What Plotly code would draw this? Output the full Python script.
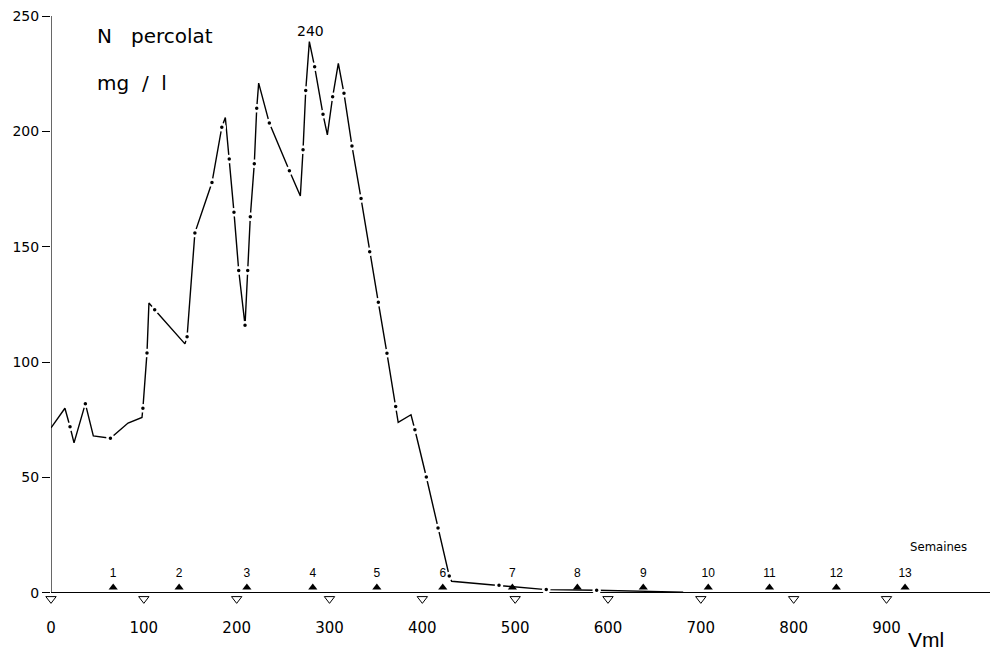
import plotly.graph_objects as go

# ---- data ----
curve_x = [0, 15, 20.5, 24.8, 37, 45.6, 64, 83, 98, 99, 103.4, 105.5, 111.7, 144.3, 146.6,
           155, 173.4, 184, 187.8, 192, 197.1, 202.2, 209, 211.9, 214.7, 219, 221.6, 223.7,
           235.2, 256.8, 268.6, 271.5, 274.4, 278.3, 284, 293, 297.7, 303.4, 309.5, 315.6,
           324.2, 334, 343.3, 352.6, 361.9, 371.3, 374, 387.8, 392, 404.3, 416.9, 429,
           431.6, 482.6, 533.5, 587.8, 681]
curve_y = [71.5, 80, 72, 65, 82, 68, 67, 73.6, 76, 80, 104, 125.6, 122.7, 107.9, 111,
           156, 177.8, 201.8, 206, 188, 165, 139.7, 116, 139.7, 163, 186, 210, 220.9,
           203.6, 182.9, 172, 192, 217.7, 238.9, 228, 207.4, 198.5, 215, 229.5, 216.5,
           193.7, 170.9, 147.8, 125.9, 103.8, 80.8, 73.9, 77.2, 70.7, 50.2, 28.1, 7.3,
           5, 3.3, 1.4, 1.1, 0.3]
curve_dot = [0, 0, 1, 0, 1, 0, 1, 0, 0, 1, 1, 0, 1, 0, 1,
             1, 1, 1, 0, 1, 1, 1, 1, 1, 1, 1, 1, 0,
             1, 1, 0, 1, 1, 0, 1, 1, 0, 1, 0, 1,
             1, 1, 1, 1, 1, 1, 0, 0, 1, 1, 1, 1,
             0, 1, 1, 1, 0]

week_labels = ["1", "2", "3", "4", "5", "6", "7", "8", "9", "10", "11", "12", "13"]
week_x = [67, 138, 211, 282, 351, 422, 497, 567, 638, 708, 774, 846, 920]

volume_marks = [0, 100, 200, 300, 400, 500, 600, 700, 800, 900]
x_ticks = [0, 100, 200, 300, 400, 500, 600, 700, 800, 900]
y_ticks = [0, 50, 100, 150, 200, 250]

peak_label = "240"
peak_x = 280

FONT = "DejaVu Sans"

dot_x = [x for x, d in zip(curve_x, curve_dot) if d]
dot_y = [y for y, d in zip(curve_y, curve_dot) if d]

fig = go.Figure()

# curve
fig.add_trace(go.Scatter(x=curve_x, y=curve_y, mode="lines",
                         line=dict(color="black", width=1.4),
                         hoverinfo="skip", showlegend=False))
# dots (white halo mimics the gaps of the original drawing)
fig.add_trace(go.Scatter(x=dot_x, y=dot_y, mode="markers",
                         marker=dict(color="black", size=6,
                                     line=dict(color="white", width=2.5)),
                         showlegend=False, cliponaxis=False))

# week markers
fig.add_trace(go.Scatter(x=week_x, y=[2.3] * len(week_x), mode="markers",
                         marker=dict(symbol="triangle-up", color="black", size=8),
                         showlegend=False, cliponaxis=False))
fig.add_trace(go.Scatter(x=week_x, y=[8.3] * len(week_x), mode="text",
                         text=week_labels,
                         textfont=dict(family="Liberation Sans", size=12, color="black"),
                         showlegend=False, cliponaxis=False))

# volume marks (open down triangles under the axis)
fig.add_trace(go.Scatter(x=volume_marks, y=[-2.6] * len(volume_marks), mode="markers",
                         marker=dict(symbol="triangle-down-open", color="black", size=9,
                                     line=dict(width=1, color="black")),
                         showlegend=False, cliponaxis=False))

annotations = [
    dict(x=peak_x, y=243.5, xref="x", yref="y", text=peak_label, showarrow=False,
         font=dict(family=FONT, size=14, color="black")),
    dict(x=47.0, y=241.5, xref="x", yref="y", text="N   percolat", showarrow=False,
         xanchor="left", font=dict(family=FONT, size=20, color="black")),
    dict(x=47.0, y=221, xref="x", yref="y", text="mg  /  l", showarrow=False,
         xanchor="left", font=dict(family=FONT, size=20, color="black")),
    dict(x=955.5, y=20, xref="x", yref="y", text="Semaines", showarrow=False,
         font=dict(family="DejaVu Sans Condensed, DejaVu Sans", size=13, color="black")),
    dict(x=943, y=-0.075, xref="x", yref="paper", text="Vml", showarrow=False,
         font=dict(family="Liberation Sans", size=21, color="black")),
]

# y-axis line from 0 up to the top tick
shapes = [dict(type="line", xref="x", yref="y", x0=0, x1=0, y0=0, y1=y_ticks[-1],
               line=dict(color="black", width=1.2))]

fig.update_layout(
    width=990, height=650,
    margin=dict(l=51, r=0, t=16, b=41),
    paper_bgcolor="white", plot_bgcolor="white",
    annotations=annotations, shapes=shapes,
    xaxis=dict(range=[0, 1011.5], tickvals=x_ticks, ticktext=[str(v) for v in x_ticks],
               showgrid=False, zeroline=False, showline=False,
               ticks="", ticklabelstandoff=8,
               tickfont=dict(family=FONT, size=15, color="black")),
    yaxis=dict(range=[-7, 250], tickvals=y_ticks, ticktext=[str(v) for v in y_ticks],
               showgrid=False, zeroline=True, zerolinecolor="black", zerolinewidth=1,
               showline=False, ticks="outside", ticklen=8, tickcolor="black",
               tickfont=dict(family=FONT, size=14, color="black")),
)

fig.write_html("out.html")
